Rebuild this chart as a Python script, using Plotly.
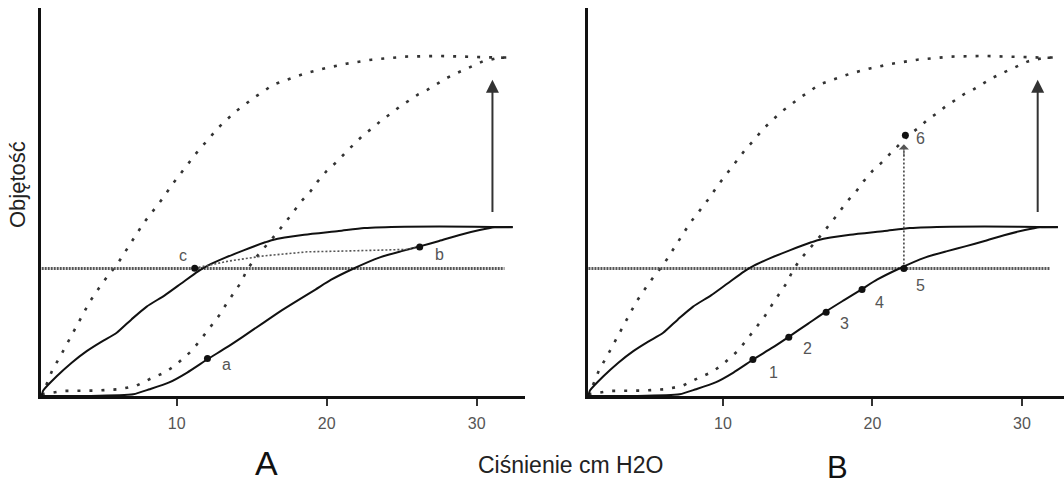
import plotly.graph_objects as go

# ---- data (x: pressure, cm H2O; y: volume, relative units) ----
upper_dotted_x = [1.0, 1.2, 1.7, 2.4, 3.0, 3.6, 4.2, 4.8, 5.4, 6.0, 6.6, 7.2, 7.8, 8.4, 9.1, 9.7,
                  10.3, 10.9, 11.5, 12.1, 12.7, 13.35, 13.9, 14.5, 15.1, 15.8, 16.4, 17.2, 17.8,
                  18.6, 19.9, 21.3, 23.0, 25.2, 27.5, 29.7, 32.4]
upper_dotted_y = [0.0, 2.0, 7.5, 13.0, 18.0, 23.0, 27.7, 31.6, 35.3, 38.5, 42.6, 46.5, 50.9, 54.3,
                  58.3, 62.2, 65.6, 69.0, 72.5, 75.4, 78.6, 81.3, 83.6, 85.5, 87.6, 89.6, 91.5,
                  92.8, 93.8, 94.9, 96.4, 97.7, 98.9, 99.8, 100.0, 99.7, 99.4]

lower_dotted_x = [1.0, 2.5, 4.7, 6.2, 7.3, 8.3, 9.2, 9.9, 10.5, 11.0, 11.6, 12.2, 12.8, 13.3, 13.8,
                  14.3, 14.6, 15.1, 15.8, 16.6, 17.5, 18.3, 18.9, 19.4, 20.0, 20.7, 21.3, 21.9,
                  22.5, 23.1, 23.7, 24.3, 24.9, 25.6, 26.1, 26.7, 27.4, 28.0, 28.7, 29.6, 30.4,
                  31.5, 32.4]
lower_dotted_y = [0.5, 1.5, 1.6, 2.0, 3.0, 5.2, 6.9, 9.0, 11.3, 13.3, 16.6, 20.2, 23.5, 27.0, 30.3,
                  33.5, 36.3, 39.8, 43.4, 47.5, 52.5, 57.2, 60.1, 63.1, 66.2, 69.0, 71.8, 74.3,
                  77.0, 78.9, 81.3, 83.1, 85.2, 87.2, 88.7, 90.0, 92.0, 93.5, 95.0, 96.9, 98.4,
                  99.5, 99.6]

deflation_x = [1.0, 1.1, 2.0, 3.0, 4.0, 5.0, 6.0, 7.0, 8.0, 9.2, 10.3, 11.4, 12.1, 13.2, 14.5,
               15.9, 16.4, 18.5, 20.8, 22.5, 25.2, 29.8, 32.4]
deflation_y = [0.0, 1.6, 5.8, 9.8, 13.2, 16.0, 18.6, 22.6, 26.3, 29.6, 33.1, 36.6, 38.4, 40.6,
               42.9, 45.2, 45.9, 47.4, 48.5, 49.4, 49.8, 49.8, 49.6]

inflation_x = [1.0, 4.0, 7.1, 8.2, 9.5, 10.7, 12.05, 13.3, 14.4, 15.7, 16.9, 18.1, 19.25, 20.3,
               21.8, 23.5, 25.0, 26.2, 27.5, 28.8, 30.2, 31.2, 32.4]
inflation_y = [0.0, 0.0, 0.5, 2.0, 4.0, 6.9, 10.8, 14.2, 17.4, 21.3, 24.9, 28.2, 31.3, 34.2,
               37.5, 40.7, 42.6, 44.0, 45.6, 47.3, 48.8, 49.6, 49.7]

level_x = [1.0, 31.85]
level_y = [37.5, 37.5]

# panel A: path c -> b and marked points
cb_x = [11.2, 11.8, 13.5, 15.8, 18.7, 20.9, 23.1, 25.3, 26.2]
cb_y = [37.6, 38.2, 39.7, 41.2, 42.4, 42.6, 42.8, 43.1, 43.7]
a_names = ["a", "b", "c"]
a_pts_x = [12.05, 26.2, 11.2]
a_pts_y = [11.0, 43.8, 37.6]
a_lbl_x = [13.3, 27.55, 10.4]
a_lbl_y = [9.3, 41.7, 41.4]

# panel B: numbered points
b_names = ["1", "2", "3", "4", "5", "6"]
b_pts_x = [12.0, 14.4, 16.9, 19.3, 22.1, 22.2]
b_pts_y = [10.7, 17.3, 24.6, 31.3, 37.5, 76.7]
b_lbl_x = [13.4, 15.65, 18.1, 20.5, 23.2, 23.2]
b_lbl_y = [6.9, 13.9, 21.2, 27.5, 32.4, 75.7]
jump_x = [22.1, 22.1]
jump_y = [37.5, 72.0]

# recruitment arrow (both panels)
arrow_x = 31.05
arrow_y0 = 53.7
arrow_y1 = 93.0

tick_vals = [10, 20, 30]
tick_text = ["10", "20", "30"]

FONT = "Liberation Sans, Arial, sans-serif"
DOT = "3px,9px"

fig = go.Figure()

panels = [("x", "y"), ("x2", "y2")]
for xa, ya in panels:
    fig.add_trace(go.Scatter(x=upper_dotted_x, y=upper_dotted_y, mode="lines", xaxis=xa, yaxis=ya,
                             line=dict(color="#333333", width=2.6, dash=DOT), hoverinfo="skip"))
    fig.add_trace(go.Scatter(x=lower_dotted_x, y=lower_dotted_y, mode="lines", xaxis=xa, yaxis=ya,
                             line=dict(color="#333333", width=2.6, dash=DOT), hoverinfo="skip"))
    fig.add_trace(go.Scatter(x=level_x, y=level_y, mode="lines", xaxis=xa, yaxis=ya,
                             line=dict(color="#555555", width=3, dash="2px,1px"), hoverinfo="skip"))
    fig.add_trace(go.Scatter(x=deflation_x, y=deflation_y, mode="lines", xaxis=xa, yaxis=ya,
                             line=dict(color="#111111", width=2, shape="spline", smoothing=0.6),
                             hoverinfo="skip"))
    fig.add_trace(go.Scatter(x=inflation_x, y=inflation_y, mode="lines", xaxis=xa, yaxis=ya,
                             line=dict(color="#111111", width=2, shape="spline", smoothing=0.6),
                             hoverinfo="skip"))

# panel A extras
fig.add_trace(go.Scatter(x=cb_x, y=cb_y, mode="lines", xaxis="x", yaxis="y",
                         line=dict(color="#555555", width=1.6, dash="2px,2px"), hoverinfo="skip"))
fig.add_trace(go.Scatter(x=a_pts_x, y=a_pts_y, mode="markers", xaxis="x", yaxis="y",
                         marker=dict(color="#111111", size=7), hoverinfo="skip"))

# panel B extras
fig.add_trace(go.Scatter(x=jump_x, y=jump_y, mode="lines", xaxis="x2", yaxis="y2",
                         line=dict(color="#444444", width=1.6, dash="2px,2px"), hoverinfo="skip"))
fig.add_trace(go.Scatter(x=b_pts_x, y=b_pts_y, mode="markers", xaxis="x2", yaxis="y2",
                         marker=dict(color="#111111", size=7), hoverinfo="skip"))

annotations = []
for n, lx, ly in zip(a_names, a_lbl_x, a_lbl_y):
    annotations.append(dict(x=lx, y=ly, xref="x", yref="y", text=n, showarrow=False,
                            font=dict(family=FONT, size=16, color="#555555")))
for n, lx, ly in zip(b_names, b_lbl_x, b_lbl_y):
    annotations.append(dict(x=lx, y=ly, xref="x2", yref="y2", text=n, showarrow=False,
                            font=dict(family=FONT, size=16, color="#555555")))
for xr, yr in panels:
    annotations.append(dict(x=arrow_x, y=arrow_y1, ax=arrow_x, ay=arrow_y0, xref=xr, yref=yr,
                            axref=xr, ayref=yr, text="", showarrow=True, arrowhead=2,
                            arrowsize=1.3, arrowwidth=2, arrowcolor="#333333"))
annotations.append(dict(x=jump_x[1], y=jump_y[1] + 2.0, ax=jump_x[1], ay=jump_y[1] - 2.0,
                        xref="x2", yref="y2", axref="x2", ayref="y2", text="", showarrow=True,
                        arrowhead=1, arrowsize=1.4, arrowwidth=1.2, arrowcolor="#555555"))

annotations += [
    dict(x=570 / 1064, y=1 - 465 / 484, xref="paper", yref="paper", text="Ciśnienie cm H2O",
         showarrow=False, xanchor="center", yanchor="middle",
         font=dict(family=FONT, size=23, color="#222222")),
    dict(x=17 / 1064, y=1 - 185 / 484, xref="paper", yref="paper", text="Objętość",
         textangle=-90, showarrow=False, xanchor="center", yanchor="middle",
         font=dict(family=FONT, size=22, color="#222222")),
    dict(x=266 / 1064, y=0, xref="paper", yref="paper", text="A",
         showarrow=False, xanchor="center", yanchor="bottom",
         font=dict(family=FONT, size=34, color="#111111")),
    dict(x=837 / 1064, y=1 - 467 / 484, xref="paper", yref="paper", text="B",
         showarrow=False, xanchor="center", yanchor="middle",
         font=dict(family=FONT, size=31, color="#111111")),
]

xaxis_common = dict(showgrid=False, zeroline=False, showline=True, linecolor="#111111",
                    linewidth=3, ticks="outside", ticklen=7, tickwidth=2, tickcolor="#333333",
                    tickvals=tick_vals, ticktext=tick_text, ticklabelstandoff=4,
                    tickfont=dict(family=FONT, size=16, color="#555555"), fixedrange=True)
yaxis_common = dict(showgrid=False, zeroline=False, showline=True, linecolor="#111111",
                    linewidth=3, showticklabels=False, ticks="", range=[0, 114.1],
                    domain=[88 / 484, 476 / 484], fixedrange=True)

fig.update_layout(
    width=1064, height=484,
    margin=dict(l=0, r=0, t=0, b=0),
    paper_bgcolor="white", plot_bgcolor="white",
    showlegend=False,
    xaxis=dict(xaxis_common, domain=[41 / 1064, 525 / 1064], range=[0.953, 33.22]),
    yaxis=dict(yaxis_common, anchor="x"),
    xaxis2=dict(xaxis_common, domain=[588 / 1064, 1.0], range=[0.97, 32.81], anchor="y2"),
    yaxis2=dict(yaxis_common, anchor="x2"),
    annotations=annotations,
)

fig.write_html("out.html", config={"displayModeBar": False},
               post_script="document.body.style.margin='0';document.body.style.overflow='hidden';")
